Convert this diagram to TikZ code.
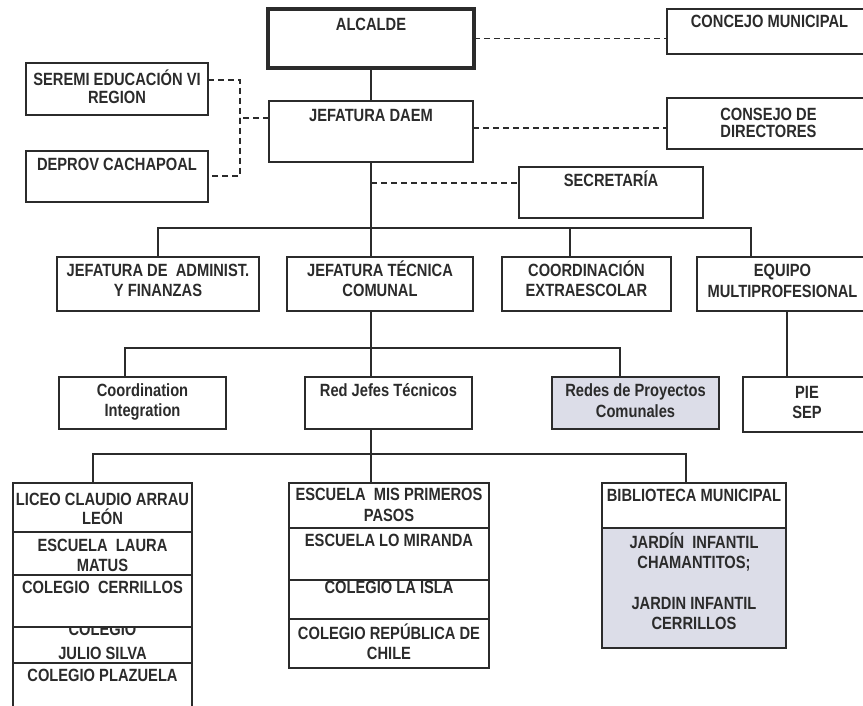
\documentclass[tikz,border=0pt]{standalone}
\usepackage{fontspec}
\setmainfont{Liberation Sans}[FakeStretch=0.83]
\usetikzlibrary{calc}
\definecolor{ink}{HTML}{2B2B2B}
\definecolor{shade}{HTML}{DCDDE8}
\newcommand\tline[1]{\makebox[\linewidth]{#1}}
% #1 style, #2 name, #3 x, #4 y (top), #5 width, #6 height, #7 first baseline, #8 line spacing, #9 text
\newcommand\ob[9]{\node[#1,anchor=north west,inner sep=0pt,outer sep=0pt,minimum width=#5pt,minimum height=#6pt] (#2) at (#3,#4) {\parbox[t][#6pt][t]{#5pt}{\fontsize{17.7pt}{#8pt}\selectfont\bfseries\parindent=0pt\lineskiplimit=-100pt\vspace*{\dimexpr#7pt-18pt\relax}\noindent\rule{0pt}{18pt}#9}};}
\tikzset{
  boxs/.style={draw=ink,line width=1.8pt,fill=white,text=ink},
  thickbox/.style={boxs,line width=3.8pt},
  shadebox/.style={boxs,fill=shade},
  conn/.style={draw=ink,line width=1.4pt},
  dl/.style={conn,dash pattern=on 6pt off 4pt}
}
\begin{document}
\begin{tikzpicture}[x=1pt,y=-1pt]
\useasboundingbox (0,0) rectangle (863,706);
\clip (0,0) rectangle (863,706);
\fill[white] (0,0) rectangle (863,706);
% top level
\ob{thickbox}{alcalde}{268}{9}{206}{59}{22}{20}{\tline{ALCALDE}}
\ob{boxs}{concejo}{667}{9}{205}{45}{19}{20}{\tline{CONCEJO MUNICIPAL}}
\ob{boxs}{seremi}{26}{63}{182}{52}{22.5}{18.5}{\tline{SEREMI EDUCACIÓN VI}\\\tline{REGION}}
\ob{boxs}{deprov}{26}{151}{182}{51}{20}{20}{\tline{DEPROV CACHAPOAL}}
\ob{boxs}{daem}{269}{101}{204}{61}{21}{20}{\tline{JEFATURA DAEM}}
\ob{boxs}{consejo}{667}{98}{203}{51}{23}{16.5}{\tline{CONSEJO DE}\\\tline{DIRECTORES}}
\ob{boxs}{secretaria}{519}{167}{184}{51}{20}{20}{\tline{SECRETARÍA}}
% second level
\ob{boxs}{admin}{57}{257}{202}{54}{19.5}{20}{\tline{JEFATURA DE\ \ ADMINIST.}\\\tline{Y FINANZAS}}
\ob{boxs}{tecnica}{287}{257}{186}{54}{19.5}{20}{\tline{JEFATURA TÉCNICA}\\\tline{COMUNAL}}
\ob{boxs}{extra}{502}{257}{169}{54}{20}{20}{\tline{COORDINACIÓN}\\\tline{EXTRAESCOLAR}}
\ob{boxs}{equipo}{697}{257}{171}{54}{19.7}{20.5}{\tline{EQUIPO}\\\tline{MULTIPROFESIONAL}}
% third level
\ob{boxs}{coord}{59}{377}{167}{52}{19.5}{19.5}{\tline{Coordination}\\\tline{Integration}}
\ob{boxs}{redjefes}{305}{377}{167}{52}{19.5}{20}{\tline{Red Jefes Técnicos}}
\ob{shadebox}{redes}{552}{377}{167}{52}{19.7}{21}{\tline{Redes de Proyectos}\\\tline{Comunales}}
\ob{boxs}{pie}{743}{377}{128}{55}{21}{20}{\tline{PIE}\\\tline{SEP}}
% fourth level, left stack
\ob{boxs}{c1}{13}{483}{179}{49}{22}{19.5}{\tline{LICEO CLAUDIO ARRAU}\\\tline{LEÓN}}
\ob{boxs}{c2}{13}{532}{179}{43}{19.5}{20}{\tline{ESCUELA\ \ LAURA}\\\tline{MATUS}}
\ob{boxs}{c4}{13}{627}{179}{36}{8}{24}{\tline{COLEGIO}\\\tline{JULIO SILVA}}
\ob{boxs}{c3}{13}{575}{179}{52}{18.5}{20}{\tline{COLEGIO\ \ CERRILLOS}}
\ob{boxs}{c5}{13}{663}{179}{60}{18}{20}{\tline{COLEGIO PLAZUELA}}
% fourth level, middle stack
\ob{boxs}{m1}{289}{483}{200}{45}{17.5}{21}{\tline{ESCUELA\ \ MIS PRIMEROS}\\\tline{PASOS}}
\ob{boxs}{m2}{289}{528}{200}{52}{18.5}{20}{\tline{ESCUELA LO MIRANDA}}
\ob{boxs}{m3}{289}{580}{200}{39}{13.5}{20}{\tline{COLEGIO LA ISLA}}
\ob{boxs}{m4}{289}{619}{200}{49}{20.5}{20}{\tline{COLEGIO REPÚBLICA DE}\\\tline{CHILE}}
% fourth level, right stack
\ob{boxs}{r1}{602}{483}{184}{45}{18.5}{20}{\tline{BIBLIOTECA MUNICIPAL}}
\ob{shadebox}{r2}{602}{528}{184}{120}{20.5}{20.3}{\tline{JARDÍN\ \ INFANTIL}\\\tline{CHAMANTITOS;}\\\tline{}\\\tline{JARDIN INFANTIL}\\\tline{CERRILLOS}}
% connectors, top
\draw[conn] (alcalde.south) -- (daem.north);
\draw[dl] (alcalde.east) -- (alcalde.east -| concejo.west);
\coordinate (sd) at (240,118);
\draw[dl] ($(seremi.north east)+(0,17)$) -| (sd) |- ($(deprov.north east)+(0,25)$);
\draw[dl] ($(daem.north west)+(0,17)$) -- (sd);
\draw[dl] ($(daem.north east)+(0,27)$) -- ($(consejo.north west)+(0,30)$);
\coordinate (b1) at (daem.south |- 0,228);
\draw[conn] (daem.south) -- (b1);
\coordinate (sx) at ($(secretaria.north west)+(0,16)$);
\draw[dl] (b1 |- sx) -- (sx);
% second level bus
\draw[conn] ($(admin.north west)+(101,0)$) |- (b1) -| ($(equipo.north west)+(54,0)$);
\draw[conn] (b1) -- (b1 |- tecnica.north);
\coordinate (ex) at ($(extra.north west)+(68,0)$);
\draw[conn] (ex) -- (ex |- b1);
% third level bus
\coordinate (b2) at (b1 |- 0,348);
\draw[conn] (b1 |- tecnica.south) -- (b2);
\draw[conn] ($(coord.north west)+(66,0)$) |- (b2) -| ($(redes.north west)+(68,0)$);
\draw[conn] (b2) -- (b2 |- redjefes.north);
\coordinate (eq) at ($(equipo.north west)+(90,0)$);
\draw[conn] (eq |- equipo.south) -- (eq |- pie.north);
% fourth level bus
\coordinate (b3) at (b1 |- 0,454);
\draw[conn] (b1 |- redjefes.south) -- (b3);
\draw[conn] ($(c1.north west)+(80,0)$) |- (b3) -| ($(r1.north west)+(84,0)$);
\draw[conn] (b3) -- (b3 |- m1.north);
\end{tikzpicture}
\end{document}
